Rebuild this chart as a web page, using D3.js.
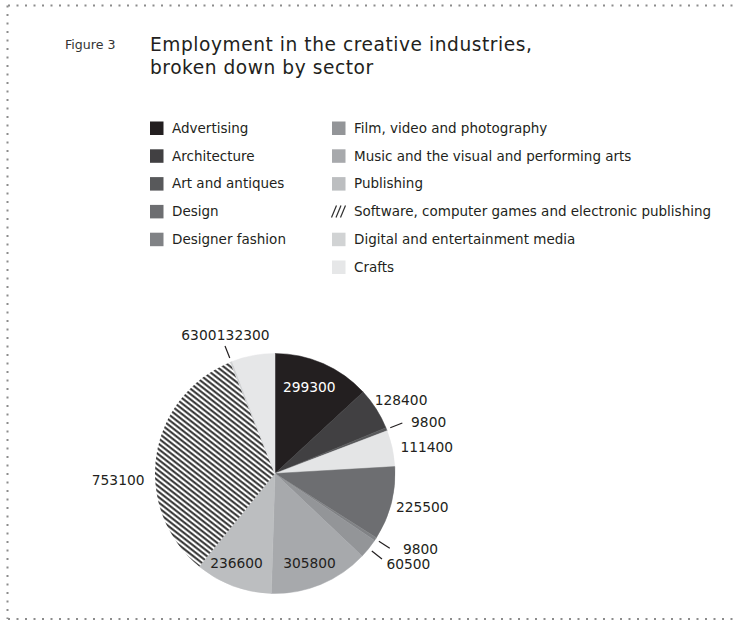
<!DOCTYPE html>
<html>
<head>
<meta charset="utf-8">
<script src="https://cdn.jsdelivr.net/npm/d3@7/dist/d3.min.js"></script>
<style>
  html, body { margin: 0; padding: 0; background: #ffffff; }
  svg { display: block; }
  text { font-family: "DejaVu Sans", sans-serif; fill: #231f20; }
</style>
</head>
<body>
<svg id="chart" width="735" height="621"></svg>
<script>
// Sector employment, clockwise from twelve o'clock
const sectors = [
  "Advertising", "Architecture", "Art and antiques", "Television and radio",
  "Design", "Designer fashion", "Film, video and photography",
  "Music and the visual and performing arts", "Publishing",
  "Software, computer games and electronic publishing",
  "Digital and entertainment media", "Crafts"
];
const employment = [299300, 128400, 9800, 111400, 225500, 9800, 60500, 305800, 236600, 753100, 6300, 132300];

// Legend entries, two columns
const legendLeft = ["Advertising", "Architecture", "Art and antiques", "Design", "Designer fashion"];
const legendRight = ["Film, video and photography", "Music and the visual and performing arts",
  "Publishing", "Software, computer games and electronic publishing",
  "Digital and entertainment media", "Crafts"];

// Grey ramp, one tone per sector ("hatch" = striped fill)
const palette = ["#231f20", "#414042", "#58595b", "#e4e5e6", "#6d6e71", "#808285",
  "#939598", "#a7a9ac", "#bcbec0", "hatch", "#d1d3d4", "#e6e7e8"];

// Label placement per slice: [angle tweak in degrees, radius, text colour, leader line]
const labelPlacement = [
  [-2, 93, "#ffffff", false],
  [2.3, 146, "#231f20", false],
  [3.2, 162, "#231f20", true],
  [2.2, 154, "#231f20", false],
  [-1.7, 151, "#231f20", false],
  [-5.7, 164, "#231f20", true],
  [-4.6, 161, "#231f20", true],
  [1.3, 96, "#231f20", false],
  [2.9, 97, "#231f20", false],
  [-11, 157, "#231f20", false],
  [-7.4, 158, "#231f20", true],
  [-2.5, 142, "#231f20", false]
];

const svg = d3.select("#chart");

// Dotted frame
const frame = svg.append("g")
  .attr("fill", "none")
  .attr("stroke", "#8c8c8c")
  .attr("stroke-width", 2)
  .attr("stroke-dasharray", "2,6.5");
frame.append("line").attr("x1", 8).attr("y1", 5.5).attr("x2", 735).attr("y2", 5.5);
frame.append("line").attr("x1", 7.5).attr("y1", 5.5).attr("x2", 7.5).attr("y2", 619);
frame.append("line").attr("x1", 8).attr("y1", 619).attr("x2", 735).attr("y2", 619);

// Stripe pattern for the software sector
const defs = svg.append("defs");
const step = 4.2;
const pat = defs.append("pattern")
  .attr("id", "stripes")
  .attr("patternUnits", "userSpaceOnUse")
  .attr("width", step).attr("height", step)
  .attr("patternTransform", "rotate(38)");
pat.append("rect").attr("width", step).attr("height", step).attr("fill", "#ffffff");
pat.append("rect").attr("x", 0).attr("y", 1.1).attr("width", step).attr("height", 1.9)
  .attr("fill", "#262626");

const color = d3.scaleOrdinal()
  .domain(sectors)
  .range(palette.map(c => c === "hatch" ? "url(#stripes)" : c));

// Heading
svg.append("text").attr("x", 65).attr("y", 49)
  .style("font-size", "12.6px").style("fill", "#333").text("Figure 3");
const title = svg.append("text").attr("x", 150).attr("y", 51)
  .style("font-size", "18.6px").style("letter-spacing", "0.55px");
title.append("tspan").attr("x", 150).attr("y", 51).text("Employment in the creative industries,");
title.append("tspan").attr("x", 150).attr("y", 74).text("broken down by sector");

// Legend
const rowY = d3.scalePoint().domain(d3.range(6)).range([128, 267]);
function legendColumn(names, x) {
  const g = svg.append("g").attr("transform", `translate(${x},0)`);
  const item = g.selectAll("g").data(names).join("g")
    .attr("transform", (d, i) => `translate(0,${rowY(i)})`);
  item.each(function (d) {
    const it = d3.select(this);
    if (color(d) === "url(#stripes)") {
      // short slashes as the striped swatch
      [1, 5.5, 10].forEach(o => {
        it.append("line")
          .attr("x1", o - 1.5).attr("y1", 6).attr("x2", o + 3.5).attr("y2", -6)
          .attr("stroke", "#2e2e2e").attr("stroke-width", 1.2);
      });
    } else {
      it.append("rect").attr("x", 0).attr("y", -6.5).attr("width", 13.5).attr("height", 13.5)
        .attr("fill", color(d));
    }
  });
  item.append("text").attr("x", 22).attr("dy", "0.36em")
    .style("font-size", "13.5px").text(d => d);
}
legendColumn(legendLeft, 150);
legendColumn(legendRight, 332);

// Pie
const cx = 275, cy = 473.5, radius = 120;
const pie = d3.pie().sort(null).value(d => d.value);
const arcs = pie(sectors.map((s, i) => ({ name: s, value: employment[i], idx: i })));
const arc = d3.arc().innerRadius(0).outerRadius(radius);

const pieG = svg.append("g").attr("transform", `translate(${cx},${cy})`);
pieG.selectAll("path").data(arcs).join("path")
  .attr("d", arc)
  .attr("fill", d => color(d.data.name))
  .attr("stroke", d => color(d.data.name) === "url(#stripes)" ? "none" : color(d.data.name))
  .attr("stroke-width", 0.5);

const fmt = d3.format("d");
const polar = (a, r) => [r * Math.sin(a), -r * Math.cos(a)];

arcs.forEach((d, i) => {
  const [tweak, r, fill, leader] = labelPlacement[i];
  const mid = (d.startAngle + d.endAngle) / 2;
  if (leader) {
    const p0 = polar(mid, 124), p1 = polar(mid, 137);
    pieG.append("line")
      .attr("x1", p0[0]).attr("y1", p0[1]).attr("x2", p1[0]).attr("y2", p1[1])
      .attr("stroke", "#231f20").attr("stroke-width", 1.2);
  }
  const p = polar(mid + tweak * Math.PI / 180, r);
  pieG.append("text")
    .attr("x", p[0]).attr("y", p[1]).attr("dy", "0.36em")
    .attr("text-anchor", "middle")
    .style("font-size", "13.8px").style("fill", fill)
    .text(fmt(d.data.value));
});
</script>
</body>
</html>
